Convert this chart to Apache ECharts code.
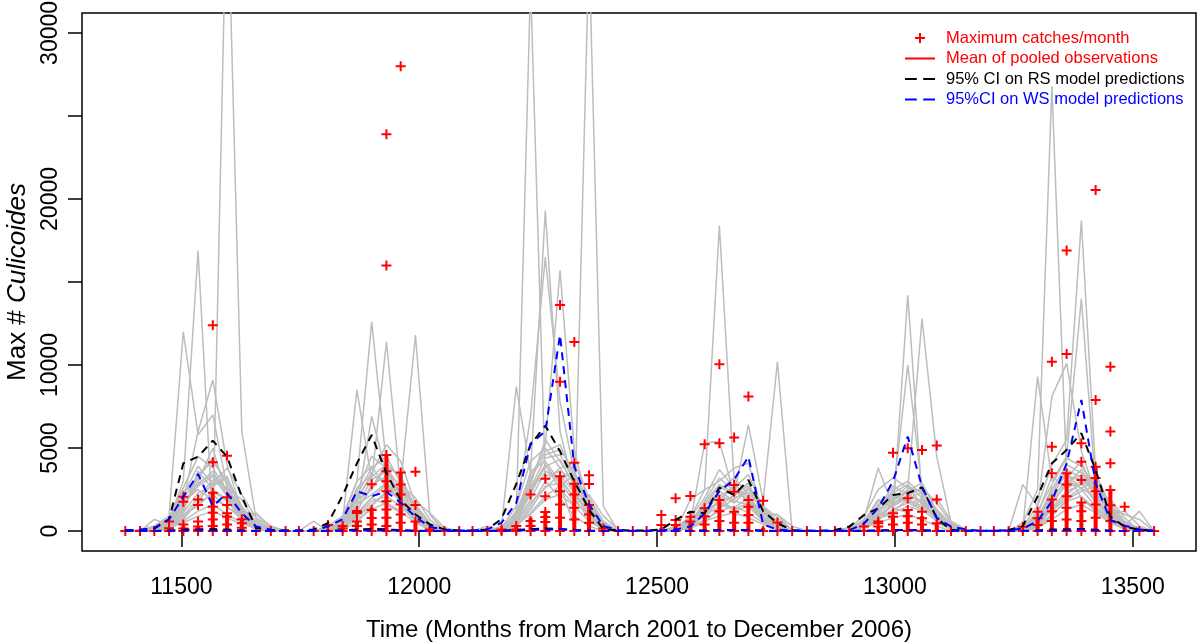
<!DOCTYPE html>
<html><head><meta charset="utf-8">
<script src="https://cdn.jsdelivr.net/npm/echarts@6/dist/echarts.min.js"></script>
<style>html,body{margin:0;padding:0;background:#fff}#c{width:1200px;height:644px}</style>
</head><body><div id="c"></div>
<script>
// ---- time axis: 72 monthly observations, March 2001 onwards (days since 1970-01-01)
const nMonths = 72;
const days = [];
for (let i = 0; i < nMonths; i++) days.push(Date.UTC(2001, 2 + i, 1) / 86400000);

const xTicks = [11500, 12000, 12500, 13000, 13500];
const yTicks = [0, 5000, 10000, 15000, 20000, 25000, 30000];
const yTickLabels = [0, 5000, 10000, 20000, 30000];

// ---- grey lines: individual trap series, one 12-month block (Mar..Feb) per year, 20 traps
const grey2001 = [
  [0,0,300,900,12000,5800,7000,2600,1200,400,0,0],
  [0,0,200,700,3000,16900,300,40000,6000,700,100,0],
  [0,0,0,300,1800,6000,9100,4000,1200,1000,300,0],
  [0,0,100,400,1500,2800,3600,2200,900,200,0,0],
  [0,0,0,300,1200,3400,4200,3000,1400,300,0,0],
  [0,0,200,600,2200,3900,2800,3300,1000,200,0,0],
  [0,0,0,200,900,2000,3100,2600,1900,500,100,0],
  [0,0,100,500,1800,2500,1900,1500,700,100,0,0],
  [0,0,0,300,1000,1500,2400,1800,1100,300,0,0],
  [0,100,300,800,2600,4500,3800,2400,1300,600,200,0],
  [0,0,0,100,600,1200,1600,1000,500,100,0,0],
  [0,0,100,300,1400,3000,5000,2000,800,200,0,0],
  [0,0,0,200,700,1800,2900,3800,2200,800,300,0],
  [0,0,700,400,500,900,1200,800,400,1100,200,0],
  [0,0,100,600,2000,3200,4400,2800,1000,300,0,0],
  [0,0,0,400,1600,2700,3300,2100,1200,200,0,0],
  [0,0,200,500,1300,3600,2500,1900,600,100,0,0],
  [0,0,0,200,1100,2300,2700,3200,1500,400,0,0],
  [0,0,100,700,2400,2900,3400,2500,800,200,0,0],
  [0,0,0,300,800,1700,2200,1400,1000,300,0,0]
];
const grey2002 = [
  [0,0,300,900,3000,12600,4000,1500,600,200,0,0],
  [0,0,200,600,8500,3000,11400,2500,1000,300,0,0],
  [0,600,0,400,1500,6900,3500,2800,11800,1000,0,0],
  [0,0,100,500,1800,3500,5200,4200,1600,300,0,0],
  [0,0,0,300,2400,4500,3800,2600,900,200,0,0],
  [0,0,100,700,3000,3900,2600,1800,700,100,0,0],
  [0,0,0,200,1200,2800,3300,2400,1500,400,0,0],
  [0,0,200,400,1600,2200,2900,1700,600,0,0,0],
  [0,0,0,300,900,1800,2100,1500,800,200,0,0],
  [0,0,100,600,2000,3300,4000,1900,1100,300,100,0],
  [0,0,0,200,700,1300,1700,1200,500,100,0,0],
  [0,0,100,300,1300,2600,4100,3200,1300,200,0,0],
  [0,0,0,100,500,1500,2400,2800,2000,700,0,0],
  [0,0,200,300,1100,2000,1600,1100,1800,1100,200,0],
  [0,0,100,500,2200,3800,4500,2900,1200,300,0,0],
  [0,0,0,300,1500,3100,3600,2200,900,200,0,0],
  [0,0,200,600,1900,2500,3900,3300,1400,400,0,0],
  [0,0,0,200,1000,2000,2800,1800,1100,100,0,0],
  [0,0,100,400,2600,3400,3000,2000,700,200,0,0],
  [0,0,0,300,800,1600,2300,2600,1600,500,0,0]
];
const grey2003 = [
  [0,0,200,1000,33000,3000,2000,900,300,0,0,0],
  [0,0,100,600,2500,4000,2800,300,35200,1500,0,0],
  [0,0,300,8700,3500,19300,6000,2500,800,200,0,0],
  [0,0,100,1200,6900,16500,7800,3500,1200,300,0,0],
  [0,0,0,900,3000,5200,15700,4800,1500,400,0,0],
  [0,0,200,1500,4200,5000,3800,2400,900,200,0,0],
  [0,0,0,700,2600,4400,4600,3000,1400,300,0,0],
  [0,0,100,500,1900,3600,3200,2000,700,100,0,0],
  [0,0,0,300,1300,2700,2900,1800,1000,300,0,0],
  [0,0,200,1100,3400,4800,5200,3300,1700,500,0,0],
  [0,0,0,400,1000,1900,2200,1500,600,100,0,0],
  [0,0,100,600,2800,5500,4200,2800,1100,200,0,0],
  [0,0,0,200,1500,3000,3800,4100,2000,600,0,0],
  [0,300,0,800,2200,4000,2500,1600,2200,900,100,0],
  [0,0,100,800,3200,4600,4900,3600,1500,300,0,0],
  [0,0,0,500,2300,3900,4300,2700,1200,200,0,0],
  [0,0,200,1000,2700,3300,3600,3100,1600,400,0,0],
  [0,0,0,400,1700,2600,3400,2300,900,100,0,0],
  [0,0,100,600,3600,4200,3000,2100,1300,300,0,0],
  [0,0,0,300,1100,2100,2700,3400,1800,500,0,0]
];
const grey2004 = [
  [0,0,200,800,2500,18400,3000,1500,600,200,0,0],
  [0,0,100,500,5300,5400,2200,6400,1800,10200,0,0],
  [0,0,0,1900,2500,3000,3800,4100,1000,1000,0,0],
  [0,0,100,600,1500,2700,2100,2900,800,300,0,0],
  [0,0,0,400,1800,3200,2400,1900,600,200,0,0],
  [0,0,200,900,1200,2200,1700,2500,1200,400,0,0],
  [0,0,0,300,900,1800,2800,2000,700,100,0,0],
  [0,0,100,500,1400,1600,1300,1700,900,300,0,0],
  [0,0,0,200,700,1200,1500,1100,500,100,0,0],
  [0,0,200,800,2000,3700,2600,3400,1400,600,100,0],
  [0,0,0,300,600,900,1100,800,400,100,0,0],
  [0,0,100,500,1100,2500,3200,2200,800,200,0,0],
  [0,0,0,200,500,1400,1900,2600,1500,800,0,0],
  [0,0,300,600,1600,2000,1200,1500,1000,1000,300,0],
  [0,0,100,500,1700,2800,2300,2700,1100,300,0,0],
  [0,0,0,300,1300,2100,2600,1800,700,200,0,0],
  [0,0,200,700,1000,1900,2000,2300,1300,500,0,0],
  [0,0,0,200,1500,2400,1800,1600,600,100,0,0],
  [0,0,100,400,900,1500,2200,2900,900,300,0,0],
  [0,0,0,300,1200,1700,1400,2000,1100,400,0,0]
];
const grey2005 = [
  [0,0,0,200,800,1000,14200,2000,800,200,0,0],
  [0,0,100,300,1200,2000,10000,2500,1100,300,0,0],
  [0,0,0,200,600,1800,2500,12800,4500,500,0,0],
  [0,0,100,700,3800,1500,2200,1800,900,200,0,0],
  [0,0,0,300,1100,2500,3000,2200,700,100,0,0],
  [0,0,200,500,900,1600,2400,2900,1200,300,0,0],
  [0,0,0,400,1500,2200,1700,1300,600,100,0,0],
  [0,0,100,300,700,1200,1900,1500,900,200,0,0],
  [0,0,0,600,1900,1400,1100,2000,500,100,0,0],
  [0,0,200,900,2500,3200,2600,2400,1300,400,0,0],
  [0,0,0,200,500,800,1000,700,300,0,0,0],
  [0,0,100,400,1300,2000,2700,1600,800,200,0,0],
  [0,0,0,300,800,1700,2100,2600,1700,500,0,0],
  [0,0,200,500,1000,1100,1500,1200,2000,600,100,0],
  [0,0,100,400,1600,2300,2800,2000,900,200,0,0],
  [0,0,0,300,1000,1900,2400,2500,1000,300,0,0],
  [0,0,200,600,1400,2700,2200,1700,700,100,0,0],
  [0,0,0,200,900,1500,2000,2300,1300,400,0,0],
  [0,0,100,500,1800,2100,1800,1400,800,200,0,0],
  [0,0,0,300,700,1300,1700,1900,1200,300,0,0]
];
const grey2006 = [
  [0,0,500,2500,26800,3500,2000,1200,600,300,0,0],
  [0,0,300,1500,4000,5500,18700,3500,1500,500,200,0],
  [0,0,200,9300,3000,4500,14000,2600,1200,400,0,0],
  [0,0,2800,1500,8100,10100,4800,2300,1000,1200,300,0],
  [0,0,100,800,2500,4000,3500,2800,1100,300,1200,0],
  [0,0,0,600,1800,3200,4200,2000,900,200,0,0],
  [0,0,200,1000,3300,2600,3000,1700,700,100,0,0],
  [0,0,0,400,1400,2400,2800,3200,1500,400,0,0],
  [0,0,100,700,2100,3500,2500,1500,600,200,0,0],
  [0,0,0,300,1000,1800,2100,1300,800,300,0,0],
  [0,0,200,1200,2800,4400,3900,2700,1300,500,100,0],
  [0,0,0,200,700,1300,1600,1100,500,100,0,0],
  [0,0,100,500,1600,2900,3400,2400,1900,800,0,0],
  [0,0,300,900,1200,2000,2600,2000,1400,1000,700,0],
  [0,0,100,600,2300,3700,3200,2500,1000,300,0,0],
  [0,0,0,400,1700,2800,3700,2200,1200,200,0,0],
  [0,0,200,800,2000,3000,2600,3000,1400,400,0,0],
  [0,0,0,300,1300,2200,2900,1900,800,100,0,0],
  [0,0,100,500,2600,3300,3100,2300,1100,300,0,0],
  [0,0,0,200,900,1900,2400,2700,1700,600,0,0]
];

// ---- mean of pooled observations (vertical red lines)
const meanPooled = [
  0,0,0,150,300,300,2300,1000,700,0,0,0,
  0,0,100,300,600,1400,4580,3520,570,100,0,0,
  0,0,100,300,800,1150,3300,2850,1570,100,0,0,
  0,200,400,600,900,1870,1200,1620,200,100,0,0,
  0,0,0,100,300,950,1220,900,470,0,0,0,
  0,0,100,850,1930,3480,1720,3880,2480,300,50,0
];

// ---- maximum catches per month (red +), one list per month
const maxCatch = [
  [0],[0],[0],[0,170,570],[0,150,400,1770,2070],[0,100,270,570,1570,1900],
  [0,300,700,1100,1470,2310,4140,12400],[0,400,870,1070,1570,2040,4540],[0,200,470,710],[0],[0],[0],
  [0],[0],[0,370],[0,150,300],[0,300,570,1090,1210],[0,400,790,1270,2820],
  [0,300,800,1300,1800,2400,3000,3600,4580,16000,23900],[0,500,1000,1600,2200,2800,3520,28000],[0,570,1570,3580],[0,100],[0],[0],
  [0],[0],[0,100],[0,100,300],[0,300,600,2200],[0,550,850,1150,2100,3150],
  [0,800,1600,2400,3300,9000,13610],[0,700,1400,2200,2850,4120,11390],[0,500,1000,1570,2840,3360],[0,150],[0],[0],
  [0],[0,370,970],[0,370,670,1980],[0,570,870,2110],[0,400,900,1370,5230],[0,600,1200,1870,5290,10050],
  [0,500,1170,2370,2780,5630],[0,500,970,1470,1870,8100],[0,1830],[0,510],[0],[0],
  [0],[0],[0],[0,280],[0,270,470,570],[0,400,870,1070,4720],
  [0,500,900,1270,1980,4990],[0,400,770,1170,4890],[0,470,1900,5150],[0],[0],[0],
  [0],[0],[0,260],[0,370,770,1170],[0,600,1200,1900,3480,5080,10200],[0,700,1400,2100,2800,3480,10670,16890],
  [0,600,1200,1720,3080,4180,5290],[0,800,1600,2400,3200,3880,7900,20540],[0,600,1560,2480,4080,5990,9900],[0,1470],[0],[0]
];

// ---- 95% CI bounds on model predictions
const rsUpper = [
  50,80,150,700,4080,4480,5450,4480,2070,180,50,30,
  30,100,470,2150,4080,5790,3480,1870,1000,400,100,30,
  30,100,730,2840,5200,6350,4800,3000,1300,100,50,30,
  30,100,670,1170,1070,2620,2170,3080,1200,470,50,20,
  20,60,270,970,1370,2170,2280,2640,770,70,30,20,
  20,60,300,2100,4080,4890,5890,3680,870,260,80,20
];
const rsLower = [
  0,0,10,30,80,100,120,90,40,10,0,0,
  0,0,10,50,90,130,100,60,20,0,0,0,
  0,0,20,60,110,150,120,70,30,0,0,0,
  0,0,0,20,40,70,60,70,30,0,0,0,
  0,0,0,20,40,60,60,50,20,0,0,0,
  0,0,10,40,90,110,130,80,20,0,0,0
];
const wsUpper = [
  30,60,200,700,2070,3440,1500,2280,1070,280,80,30,
  30,50,270,720,2400,2100,2370,1700,870,250,80,30,
  30,100,500,1700,5270,6000,11810,3890,1600,300,60,30,
  20,50,100,270,1070,2400,3100,4480,400,80,30,20,
  20,30,50,450,1400,3000,5690,2670,800,270,100,20,
  20,50,150,600,1800,4080,7900,2880,650,330,100,20
];
const wsLower = [
  0,0,0,10,30,50,30,40,20,0,0,0,
  0,0,0,20,40,40,40,30,10,0,0,0,
  0,0,10,30,70,80,120,50,20,0,0,0,
  0,0,0,0,20,40,50,60,10,0,0,0,
  0,0,0,10,20,40,70,40,10,0,0,0,
  0,0,0,10,30,60,100,40,10,0,0,0
];

// ---- build series
const FONT = "'Liberation Sans', Arial, Helvetica, sans-serif";
const plusPath = 'path://M4,0H6V4H10V6H6V10H4V6H0V4H4Z';
const linePath = 'path://M0,0H30V2H0Z';
const dashPath = 'path://M0,0H11V2H0Z M17,0H28V2H17Z';
const NAME_MAX = 'Maximum catches/month';
const NAME_MEAN = 'Mean of pooled observations';
const NAME_RS = '95% CI on RS model predictions';
const NAME_WS = '95%CI on WS model predictions';

const years = [grey2001, grey2002, grey2003, grey2004, grey2005, grey2006];
const series = [];
for (let k = 0; k < grey2001.length; k++) {
  const vals = [].concat(...years.map(y => y[k]));
  series.push({
    type: 'line', data: vals.map((v, i) => [days[i], v]), symbol: 'none', silent: true,
    lineStyle: { color: '#bdbdbd', width: 1.5 }, z: 1, legendHoverLink: false
  });
}
series.push({
  name: NAME_MEAN, type: 'bar', barWidth: 4, data: meanPooled.map((v, i) => [days[i], v]),
  itemStyle: { color: '#ff0000', opacity: 1 }, z: 2
});
const crossData = [];
maxCatch.forEach((list, i) => list.forEach(v => crossData.push([days[i], v])));
series.push({
  name: NAME_MAX, type: 'scatter', data: crossData, symbol: plusPath, symbolSize: 10,
  itemStyle: { color: '#ff0000', opacity: 1 }, z: 3
});
function ciLine(name, vals, color, z) {
  return {
    name, type: 'line', data: vals.map((v, i) => [days[i], v]), symbol: 'none', color,
    lineStyle: { color, width: 2, type: [8, 6] }, itemStyle: { color }, z
  };
}
series.push(ciLine(NAME_RS, rsUpper, '#000000', 4));
series.push(ciLine(NAME_RS, rsLower, '#000000', 4));
series.push(ciLine(NAME_WS, wsUpper, '#0000ff', 5));
series.push(ciLine(NAME_WS, wsLower, '#0000ff', 5));

const plain = v => String(v);
const chart = echarts.init(document.getElementById('c'), null, { renderer: 'canvas' });
chart.setOption({
  animation: false,
  backgroundColor: '#ffffff',
  grid: { left: 82, right: 4, top: 13, bottom: 93, containLabel: false, outerBoundsMode: 'none',
          show: true, borderColor: '#000', borderWidth: 1.5, backgroundColor: 'transparent' },
  legend: {
    orient: 'vertical', left: 900, top: 23, itemWidth: 30, itemHeight: 10, itemGap: 0.5,
    selectedMode: false, itemStyle: { borderWidth: 0 },
    textStyle: { fontFamily: FONT, fontSize: 16.5, lineHeight: 20, padding: [0, 0, 0, 6] },
    data: [
      { name: NAME_MAX, icon: plusPath, textStyle: { color: '#ff0000' } },
      { name: NAME_MEAN, icon: linePath, textStyle: { color: '#ff0000' } },
      { name: NAME_RS, icon: dashPath, textStyle: { color: '#000000' } },
      { name: NAME_WS, icon: dashPath, textStyle: { color: '#0000ff' } }
    ]
  },
  xAxis: {
    type: 'value', min: 11291, max: 13633,
    axisLine: { show: false }, splitLine: { show: false },
    axisTick: { show: true, length: 16, lineStyle: { color: '#000', width: 1.5 }, customValues: xTicks },
    axisLabel: { customValues: xTicks, formatter: plain, margin: 25, color: '#000', fontSize: 23, fontFamily: FONT },
    name: 'Time (Months from March 2001 to December 2006)', nameLocation: 'middle', nameGap: 67,
    nameTextStyle: { color: '#000', fontSize: 24, fontFamily: FONT }
  },
  yAxis: {
    type: 'value', min: -1200, max: 31200,
    axisLine: { show: false }, splitLine: { show: false },
    axisTick: { show: true, length: 14, lineStyle: { color: '#000', width: 1.5 }, customValues: yTicks },
    axisLabel: { customValues: yTickLabels, formatter: plain, rotate: 90, margin: 20, color: '#000', fontSize: 23, fontFamily: FONT },
    name: '{a|Max # }{b|Culicoides}', nameLocation: 'middle', nameGap: 51, nameRotate: 90,
    nameTextStyle: { color: '#000', fontSize: 26, fontFamily: FONT,
      rich: { a: { fontSize: 26, fontFamily: FONT, color: '#000' },
              b: { fontSize: 26, fontFamily: FONT, fontStyle: 'italic', color: '#000' } } }
  },
  series
});
</script></body></html>
